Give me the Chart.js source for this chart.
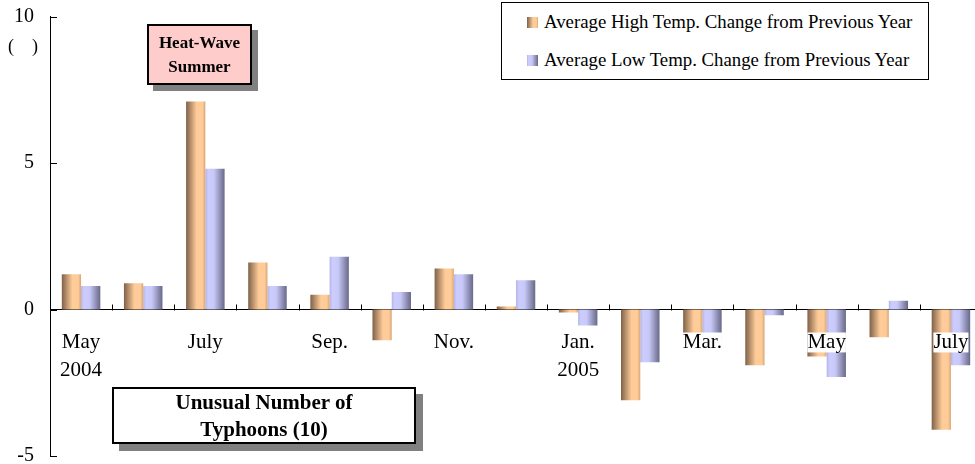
<!DOCTYPE html>
<html>
<head>
<meta charset="utf-8">
<script src="https://cdn.jsdelivr.net/npm/chart.js@4.4.0/dist/chart.umd.min.js"></script>
<style>
    body { margin: 0; overflow: hidden; background: #fff; font-family: "Liberation Serif", "Times New Roman", serif; }
    #wrap { position: relative; width: 990px; height: 480px; }
    #tempChart { display: block; }
    #tempLegend { position: absolute; left: 501px; top: 2px; width: 428px; height: 78px; box-sizing: border-box; border: 1px solid #000; background: #fff; }
    #tempLegend ul { list-style: none; margin: 0; padding: 0; }
    #tempLegend li { position: absolute; left: 25px; height: 24px; display: flex; align-items: center; font-size: 18.8px; white-space: nowrap; }
    #tempLegend li span { width: 11px; height: 11px; margin-right: 6px; }
    #tempLegend li p { margin: 0; }
    .note { position: absolute; box-sizing: border-box; border: 2px solid #000; font-weight: bold; text-align: center; display: flex; flex-direction: column; justify-content: center; }
    #heatNote { left: 147px; top: 24px; width: 105px; height: 61px; background: #ffcccc; box-shadow: 6px 6px 0 #808080; font-size: 17px; line-height: 24px; }
    #typhoonNote { left: 112px; top: 387px; width: 304px; height: 57px; background: #fff; box-shadow: 7px 7px 0 #808080; font-size: 21px; line-height: 27px; }
    #unit { position: absolute; left: 8px; top: 36px; font-size: 18px; white-space: pre; }
</style>
</head>
<body>
<div id="wrap">
    <canvas id="tempChart" width="990" height="480"></canvas>
    <div id="unit">(    )</div>
    <div id="tempLegend"></div>
    <div class="note" id="heatNote"><div>Heat-Wave</div><div>Summer</div></div>
    <div class="note" id="typhoonNote"><div>Unusual Number of</div><div>Typhoons (10)</div></div>
</div>
<script>
'use strict'

// May 2004 .. July 2005
const months = ['May 2004', 'June', 'July', 'Aug.', 'Sep.', 'Oct.', 'Nov.', 'Dec.', 'Jan. 2005', 'Feb.', 'Mar.', 'Apr.', 'May', 'June', 'July'];
const xTickLabels = [['May', '2004'], '', 'July', '', 'Sep.', '', 'Nov.', '', ['Jan.', '2005'], '', 'Mar.', '', 'May', '', 'July'];
const highChange = [1.2, 0.9, 7.1, 1.6, 0.5, -1.05, 1.4, 0.1, -0.1, -3.1, -1.0, -1.9, -1.6, -0.95, -4.1];
const lowChange = [0.8, 0.8, 4.8, 0.8, 1.8, 0.6, 1.2, 1.0, -0.55, -1.8, -1.1, -0.2, -2.3, 0.3, -1.9];
const seriesLabels = ['Average High Temp. Change from Previous Year', 'Average Low Temp. Change from Previous Year'];
const yTicks = [-5, 0, 5, 10];

const catPct = 0.62;
const highStops = [[0, '#7f6148'], [0.55, '#ffcc99'], [0.85, '#ffcc99'], [1, '#d6a676']];
const lowStops = [[0, '#b4b4e4'], [0.15, '#ccccff'], [0.45, '#c8c8f8'], [1, '#686888']];

const cssGradient = (stops) => 'linear-gradient(to right, ' + stops.map(s => s[1] + ' ' + (s[0] * 100) + '%').join(', ') + ')';

// horizontal shading per bar, computed from the category scale
const barGradient = (stops, side) => (ctx) => {
    const chart = ctx.chart;
    const x = chart.scales.x;
    if (!x || !x.width || ctx.dataIndex === undefined) {
        return stops[1][1];
    }
    const bw = (x.right - x.left) / months.length * catPct / 2;
    const c = x.getPixelForValue(ctx.dataIndex);
    const x0 = side === 0 ? c - bw : c;
    const g = chart.ctx.createLinearGradient(x0, 0, x0 + bw, 0);
    stops.forEach(s => g.addColorStop(s[0], s[1]));
    return g;
};

const tickMarksPlugin = {
    id: 'tickMarks',
    afterDatasetsDraw(chart) {
        const { ctx, scales: { x, y } } = chart;
        ctx.save();
        ctx.strokeStyle = '#000';
        ctx.lineWidth = 1;
        ctx.beginPath();
        const zero = Math.round(y.getPixelForValue(0)) + 0.5;
        for (let i = 1; i < months.length; i++) {
            const px = Math.round((x.getPixelForValue(i - 1) + x.getPixelForValue(i)) / 2) + 0.5;
            ctx.moveTo(px, zero);
            ctx.lineTo(px, zero - 6);
        }
        yTicks.forEach(v => {
            const py = Math.round(y.getPixelForValue(v)) + 0.5;
            ctx.moveTo(x.left, py);
            ctx.lineTo(x.left + 7, py);
        });
        ctx.stroke();
        ctx.restore();
    }
};

const htmlLegendPlugin = {
    id: 'htmlLegend',
    afterUpdate(chart, args, options) {
        const box = document.getElementById(options.containerID);
        box.innerHTML = '';
        const ul = document.createElement('ul');
        chart.data.datasets.forEach((ds, i) => {
            const li = document.createElement('li');
            li.style.top = (7 + i * 38) + 'px';
            const sw = document.createElement('span');
            sw.style.background = cssGradient(i === 0 ? highStops : lowStops);
            const p = document.createElement('p');
            p.textContent = ds.label;
            li.appendChild(sw);
            li.appendChild(p);
            ul.appendChild(li);
        });
        box.appendChild(ul);
    }
};

new Chart(document.getElementById('tempChart'), {
    type: 'bar',
    data: {
        labels: months,
        datasets: [
            {
                label: seriesLabels[0],
                data: highChange,
                backgroundColor: barGradient(highStops, 0),
                categoryPercentage: catPct,
                barPercentage: 1
            },
            {
                label: seriesLabels[1],
                data: lowChange,
                backgroundColor: barGradient(lowStops, 1),
                categoryPercentage: catPct,
                barPercentage: 1
            }
        ]
    },
    options: {
        responsive: false,
        animation: false,
        layout: { padding: { left: 0, top: 16, right: 8, bottom: 24 } },
        scales: {
            x: {
                position: { y: 0 },
                offset: true,
                grid: { display: false, drawTicks: false },
                border: { display: true, color: '#000', width: 1 },
                ticks: {
                    z: 1,
                    autoSkip: false,
                    maxRotation: 0,
                    padding: 19,
                    color: '#000',
                    font: { family: '"Liberation Serif"', size: 21, lineHeight: 1.33 },
                    // backdrop only on one-line labels (it would wipe the first line otherwise)
                    showLabelBackdrop: (c) => !Array.isArray(xTickLabels[c.index]),
                    backdropColor: '#fff',
                    backdropPadding: { top: -4, bottom: -4, left: 0, right: 0 },
                    callback: (v, i) => xTickLabels[i]
                }
            },
            y: {
                min: -5,
                max: 10,
                afterFit: (s) => { s.width = 50; },
                grid: { display: false, drawTicks: false },
                border: { display: true, color: '#000', width: 1 },
                ticks: {
                    stepSize: 5,
                    padding: 16,
                    color: '#000',
                    font: { family: '"Liberation Serif"', size: 20, lineHeight: 0.05 }
                }
            }
        },
        plugins: {
            legend: { display: false },
            htmlLegend: { containerID: 'tempLegend' },
            tooltip: { enabled: true }
        }
    },
    plugins: [tickMarksPlugin, htmlLegendPlugin]
});
</script>
</body>
</html>
